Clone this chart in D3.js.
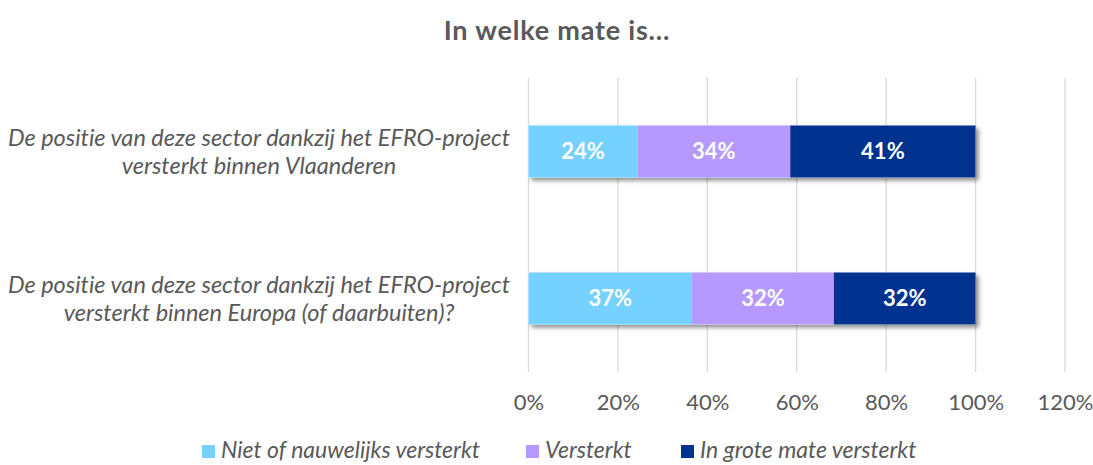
<!DOCTYPE html>
<html><head><meta charset="utf-8">
<script src="https://cdn.jsdelivr.net/npm/d3@7"></script>
<style>
html,body{margin:0;padding:0;background:#fff;}
svg{display:block;font-family:Lato,"Liberation Sans",sans-serif;font-variant-ligatures:none;}
</style></head>
<body><svg id="c" width="1093" height="465"></svg>
<script>
const title = "In welke mate is...";
const categories = [
  ["De positie van deze sector dankzij het EFRO-project", "versterkt binnen Vlaanderen"],
  ["De positie van deze sector dankzij het EFRO-project", "versterkt binnen Europa (of daarbuiten)?"]
];
const seriesNames = ["Niet of nauwelijks versterkt", "Versterkt", "In grote mate versterkt"];
const seriesColors = ["#75D1FF", "#B599FF", "#003290"];
const niet = [0.2439, 0.3659];
const versterkt = [0.3415, 0.3171];
const groteMate = [0.4146, 0.3171];
const tickValues = [0, 0.2, 0.4, 0.6, 0.8, 1.0, 1.2];

const svg = d3.select("#c");
const pLeft = 528.5, pRight = 1065, pTop = 78, pBottom = 372;

const defs = svg.append("defs");
const f = defs.append("filter").attr("id","sh").attr("x","-5%").attr("y","-20%").attr("width","115%").attr("height","160%");
f.append("feDropShadow").attr("dx",3).attr("dy",3).attr("stdDeviation",2.2).attr("flood-color","#000").attr("flood-opacity",0.45);

const x = d3.scaleLinear().domain([0,1.2]).range([pLeft,pRight]);
const y = d3.scaleBand().domain(d3.range(categories.length)).range([pTop,pBottom]).padding(0);
const barH = y.bandwidth()*0.354;

// gridlines
svg.append("g").selectAll("line").data(tickValues).join("line")
  .attr("x1",d=>x(d)).attr("x2",d=>x(d)).attr("y1",pTop).attr("y2",pBottom)
  .attr("stroke","#d9d9d9").attr("stroke-width",1.3);

// axis
const axis = svg.append("g").attr("transform",`translate(0,${pBottom})`)
  .call(d3.axisBottom(x).tickValues(tickValues).tickFormat(d3.format(".0%")).tickSize(0).tickPadding(22));
axis.select(".domain").remove();
axis.selectAll("text").attr("fill","#595959").attr("font-size",22).attr("font-family","Lato,sans-serif");

// stacked data
const rows = categories.map((c,i)=>({i, niet:niet[i], versterkt:versterkt[i], grote:groteMate[i]}));
const stack = d3.stack().keys(["niet","versterkt","grote"])(rows);

const barG = svg.append("g");
barG.selectAll("rect.sh").data(rows).join("rect")
  .attr("x",d=>x(0)).attr("width",d=>x(d.niet+d.versterkt+d.grote)-x(0))
  .attr("y",d=>y(d.i)+y.bandwidth()/2-barH/2).attr("height",barH)
  .attr("fill","#fff").attr("filter","url(#sh)");

stack.forEach((s,k)=>{
  const g = barG.append("g");
  g.selectAll("rect").data(s).join("rect")
    .attr("x",d=>x(d[0])).attr("width",d=>x(d[1])-x(d[0]))
    .attr("y",(d,i)=>y(i)+y.bandwidth()/2-barH/2).attr("height",barH)
    .attr("fill",seriesColors[k]);
  g.selectAll("text").data(s).join("text")
    .attr("x",d=>(x(d[0])+x(d[1]))/2).attr("y",(d,i)=>y(i)+y.bandwidth()/2)
    .attr("dy","0.35em").attr("text-anchor","middle")
    .attr("fill","#fff").attr("font-weight","bold").attr("font-size",22)
    .text(d=>d3.format(".0%")(d[1]-d[0]));
});

// category labels
categories.forEach((lines,i)=>{
  const cy = y(i)+y.bandwidth()/2;
  const t = svg.append("text").attr("text-anchor","middle").attr("fill","#595959")
    .attr("font-style","italic").attr("font-size",23.5);
  lines.forEach((l,j)=>{
    t.append("tspan").attr("x",259).attr("y",cy + (j-(lines.length-1)/2)*28).attr("dy","0.35em").text(l);
  });
});

// title
svg.append("text").attr("x",557).attr("y",31).attr("dy","0.35em").attr("text-anchor","middle")
  .attr("fill","#595959").attr("font-weight","bold").attr("font-size",27).attr("letter-spacing",0.8).text(title);

// legend
const legendX = [202, 526, 681];
const lg = svg.append("g");
seriesNames.forEach((n,k)=>{
  lg.append("rect").attr("x",legendX[k]).attr("y",445).attr("width",13).attr("height",13).attr("fill",seriesColors[k]);
  lg.append("text").attr("x",legendX[k]+19).attr("y",450).attr("dy","0.35em")
    .attr("fill","#595959").attr("font-style","italic").attr("font-size",23).text(n);
});
</script></body></html>
